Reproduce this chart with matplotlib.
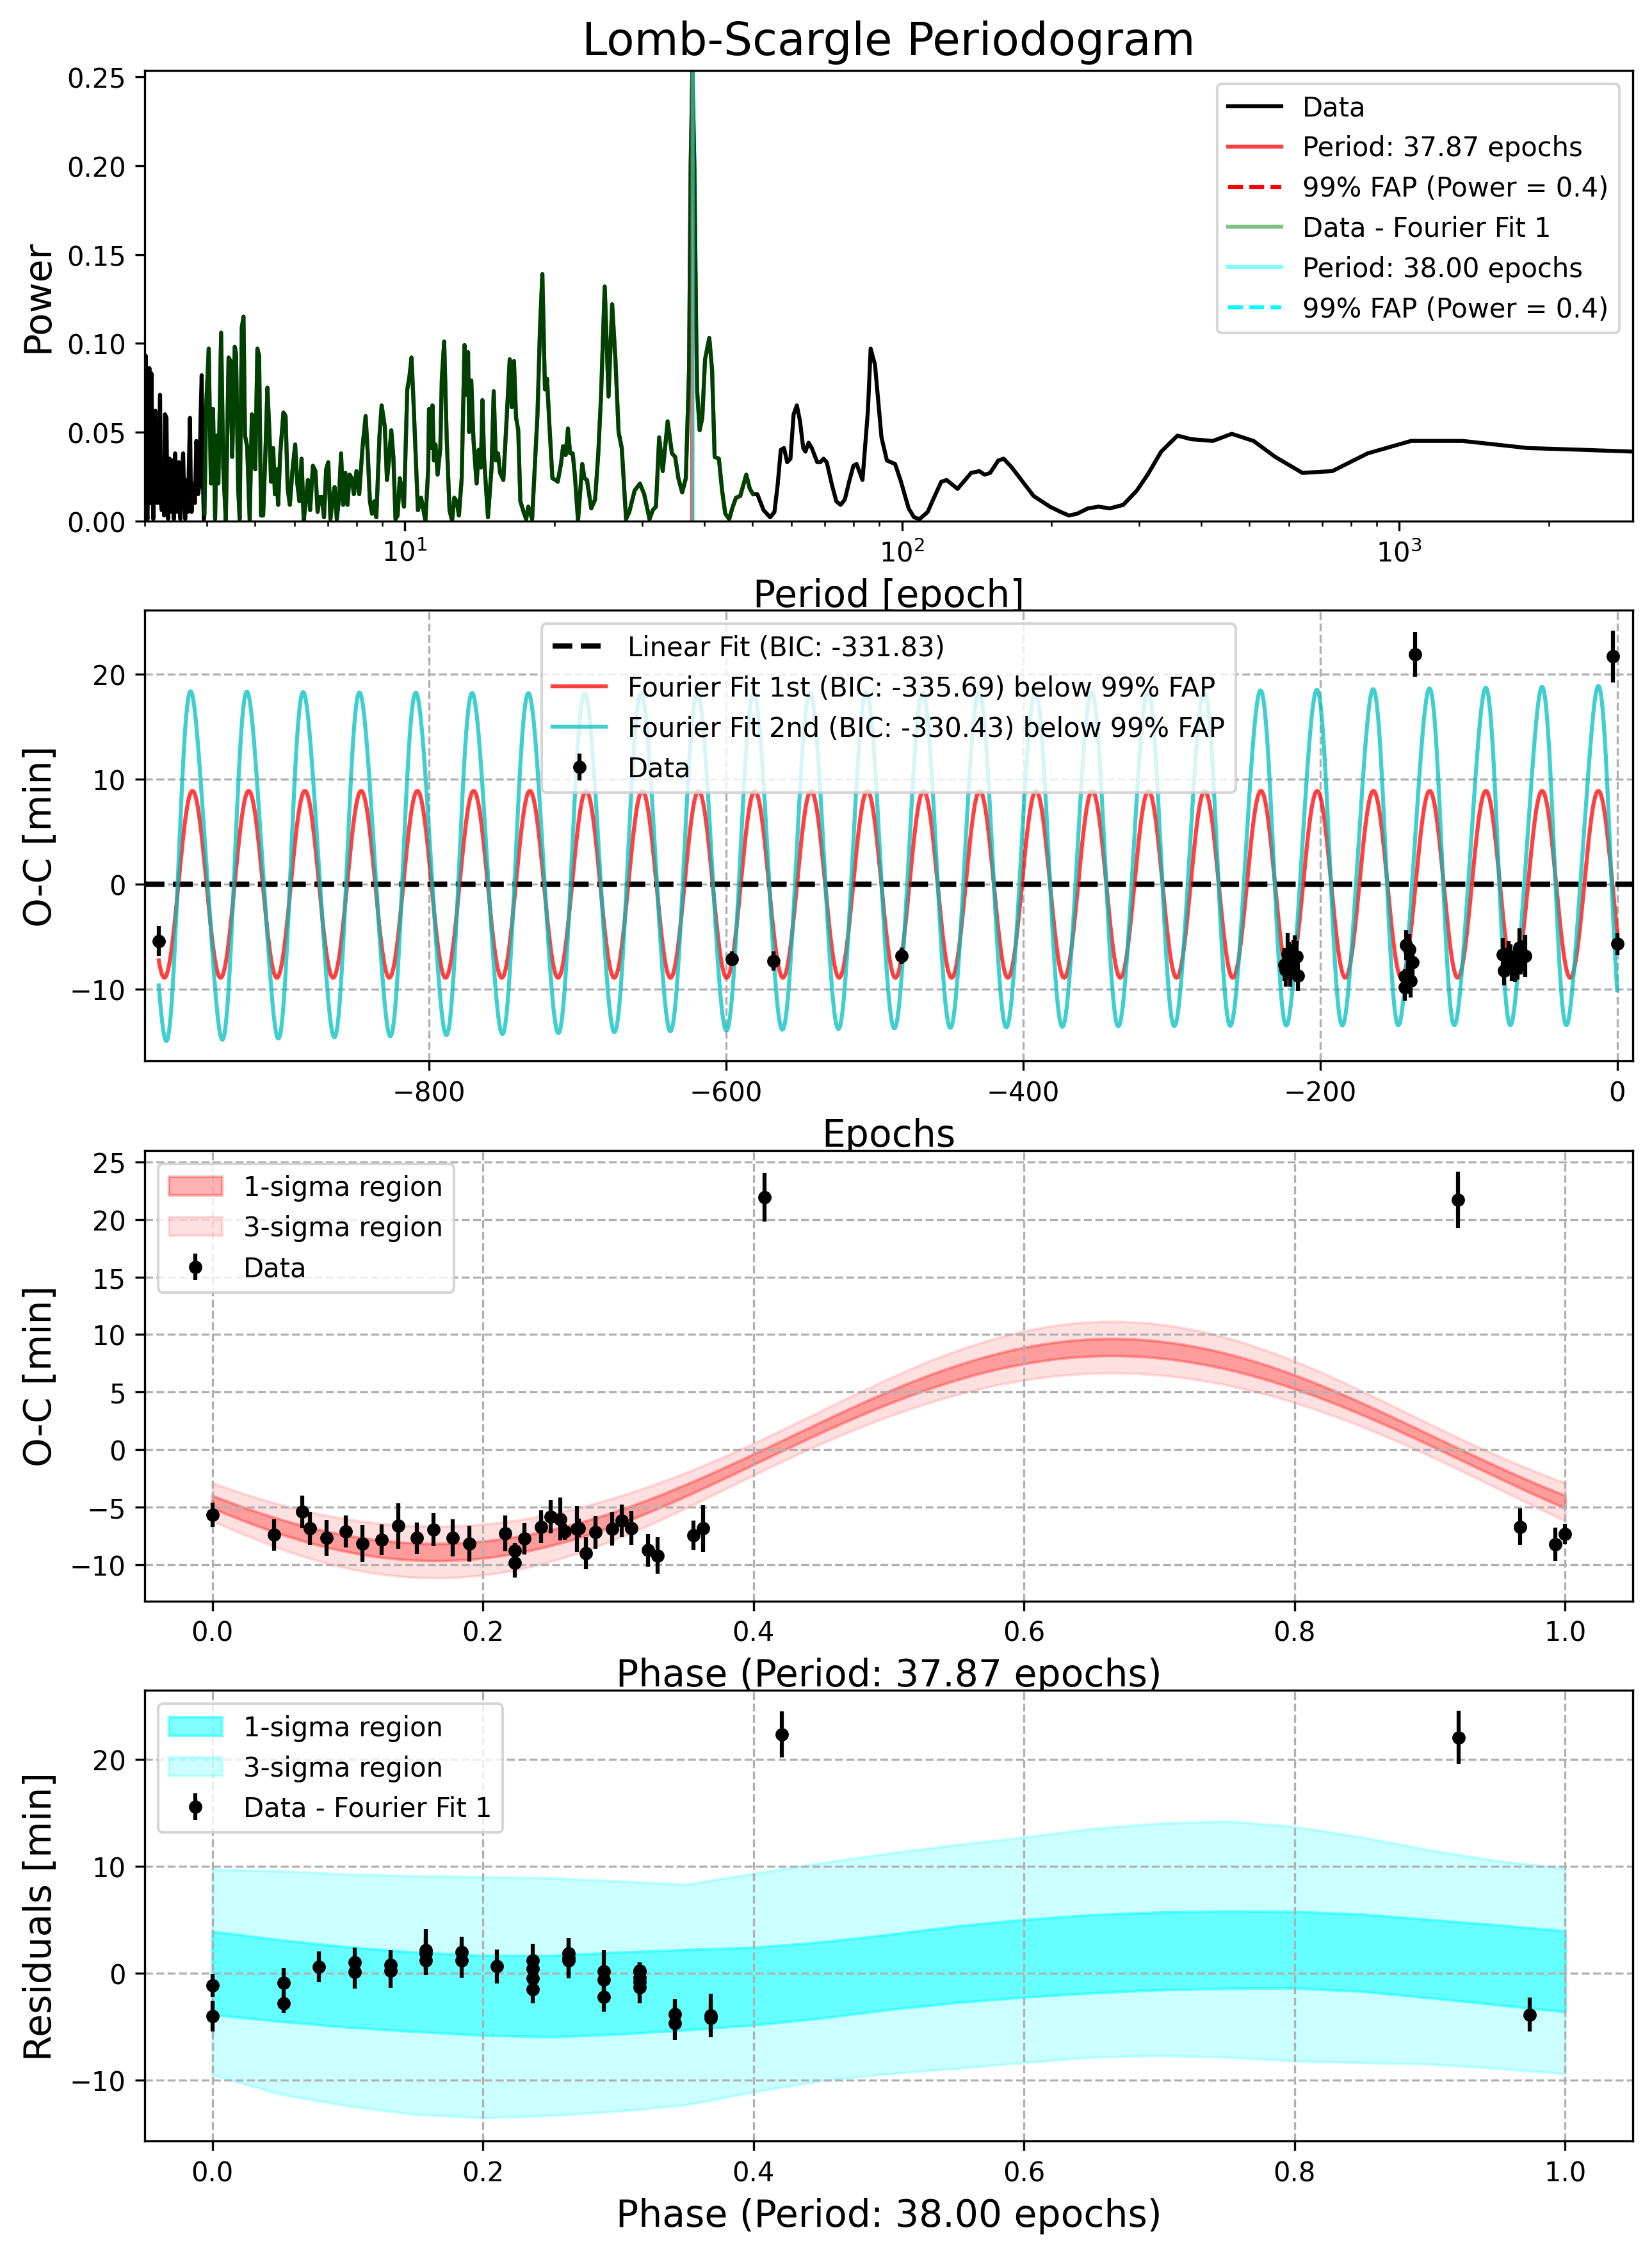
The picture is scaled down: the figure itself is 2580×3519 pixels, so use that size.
import numpy as np
import matplotlib

matplotlib.use("Agg")
import matplotlib.pyplot as plt

# ---------------------------------------------------------------------------
# Lomb-Scargle periodogram of the O-C data (log10 period, power)
log_period = [
    0.4771, 0.4792, 0.4809, 0.4827, 0.4848, 0.4865, 0.4882, 0.4908, 0.4925, 0.4943,
    0.4964, 0.4986, 0.5007, 0.5028, 0.5054, 0.5080, 0.5097, 0.5114, 0.5140, 0.5161,
    0.5179, 0.5209, 0.5226, 0.5243, 0.5260, 0.5273, 0.5290, 0.5307, 0.5329, 0.5346,
    0.5359, 0.5372, 0.5385, 0.5402, 0.5423, 0.5441, 0.5458, 0.5475, 0.5488, 0.5514,
    0.5544, 0.5565, 0.5586, 0.5608, 0.5621, 0.5638, 0.5659, 0.5681, 0.5698, 0.5715,
    0.5737, 0.5758, 0.5780, 0.5810, 0.5827, 0.5844, 0.5870, 0.5896, 0.5917, 0.5938,
    0.5960,
    0.5973, 0.6007, 0.6059, 0.6102, 0.6145, 0.6187, 0.6218, 0.6252, 0.6308, 0.6351,
    0.6402, 0.6458, 0.6497, 0.6531, 0.6582, 0.6608, 0.6651, 0.6681, 0.6724, 0.6758,
    0.6788, 0.6831, 0.6883, 0.6926, 0.6960, 0.6995, 0.7037, 0.7072, 0.7110, 0.7153,
    0.7196, 0.7239, 0.7282, 0.7312, 0.7355, 0.7389, 0.7424, 0.7454, 0.7497, 0.7561,
    0.7604, 0.7647, 0.7690, 0.7741, 0.7797, 0.7840, 0.7883, 0.7926, 0.7969, 0.8012,
    0.8055, 0.8098, 0.8154, 0.8205, 0.8248, 0.8291, 0.8334, 0.8377, 0.8420, 0.8463,
    0.8506, 0.8549, 0.8591, 0.8634, 0.8677, 0.8720, 0.8763, 0.8806, 0.8849, 0.8892,
    0.8935, 0.8978, 0.9029, 0.9085, 0.9150, 0.9214, 0.9257, 0.9300, 0.9343, 0.9386,
    0.9429, 0.9493, 0.9536, 0.9600, 0.9643, 0.9686, 0.9729, 0.9772, 0.9815, 0.9858,
    0.9901, 0.9944, 0.9986, 1.0051, 1.0094, 1.0137, 1.0180, 1.0223, 1.0266, 1.0330,
    1.0416, 1.0472, 1.0489, 1.0523, 1.0558, 1.0588, 1.0618, 1.0661, 1.0716, 1.0746,
    1.0794, 1.0845, 1.0901, 1.0953, 1.0996, 1.1047, 1.1090, 1.1146, 1.1202, 1.1232,
    1.1274, 1.1296, 1.1339, 1.1382, 1.1446, 1.1489, 1.1532, 1.1562, 1.1597, 1.1674,
    1.1747, 1.1790, 1.1833, 1.1876, 1.1918, 1.1983, 1.2047, 1.2112, 1.2154, 1.2197,
    1.2240, 1.2283, 1.2326, 1.2391, 1.2442, 1.2485, 1.2562, 1.2670, 1.2721, 1.2768,
    1.2820, 1.2863, 1.2906, 1.2970, 1.3035, 1.3077, 1.3142, 1.3185, 1.3236, 1.3283,
    1.3326, 1.3378, 1.3421, 1.3485, 1.3571, 1.3614, 1.3665, 1.3751, 1.3829, 1.3893,
    1.3949, 1.4022, 1.4099, 1.4172, 1.4237, 1.4301, 1.4365, 1.4451, 1.4516, 1.4623,
    1.4730, 1.4816, 1.4923, 1.4988, 1.5052, 1.5117, 1.5189, 1.5288, 1.5374, 1.5439,
    1.5503, 1.5580, 1.5653, 1.5718, 1.5750, 1.5785, 1.5825, 1.5860, 1.5881, 1.5932,
    1.5984, 1.6040, 1.6125, 1.6181, 1.6233, 1.6318, 1.6383, 1.6447, 1.6525, 1.6598,
    1.6662, 1.6748, 1.6868, 1.6941, 1.7005,
    1.7091, 1.7217, 1.7349, 1.7435, 1.7499, 1.7563, 1.7628, 1.7692, 1.7757, 1.7821,
    1.7886, 1.7950, 1.8014, 1.8058, 1.8122, 1.8186, 1.8296, 1.8358, 1.8422, 1.8487,
    1.8594, 1.8680, 1.8765, 1.8851, 1.8937, 1.9023, 1.9087, 1.9206, 1.9315, 1.9370,
    1.9457, 1.9534, 1.9588, 1.9697, 1.9861, 1.9970, 2.0134, 2.0243, 2.0353, 2.0517,
    2.0626, 2.0790, 2.0899, 2.1117, 2.1391, 2.1554, 2.1663, 2.1773, 2.1937, 2.2046,
    2.2210, 2.2428, 2.2647, 2.2974, 2.3193, 2.3357, 2.3520, 2.3739, 2.3957, 2.4176,
    2.4449, 2.4722, 2.4940, 2.5213, 2.5541, 2.5814, 2.6251, 2.6633, 2.7070, 2.7507,
    2.8053, 2.8654, 2.9364, 3.0238, 3.1275, 3.2586, 3.3679, 3.4695,
]
power = [
    0.050, 0.093, 0.010, 0.001, 0.040, 0.086, 0.010, 0.083, 0.030, 0.001,
    0.020, 0.062, 0.012, 0.010, 0.035, 0.071, 0.010, 0.006, 0.030, 0.003,
    0.060, 0.058, 0.010, 0.001, 0.030, 0.035, 0.005, 0.015, 0.034, 0.010,
    0.001, 0.025, 0.038, 0.015, 0.005, 0.030, 0.033, 0.010, 0.001, 0.025,
    0.038, 0.012, 0.001, 0.023, 0.010, 0.005, 0.030, 0.058, 0.020, 0.005,
    0.018, 0.021, 0.010, 0.045, 0.030, 0.015, 0.020, 0.060, 0.082, 0.030,
    0.001,
    0.004, 0.064, 0.097, 0.021, 0.063, 0.001, 0.048, 0.021, 0.106, 0.030,
    0.000, 0.092, 0.090, 0.036, 0.098, 0.094, 0.018, 0.001, 0.109, 0.115,
    0.048, 0.042, 0.000, 0.060, 0.032, 0.029, 0.097, 0.093, 0.003, 0.003,
    0.036, 0.075, 0.048, 0.022, 0.041, 0.015, 0.029, 0.009, 0.038, 0.061,
    0.059, 0.018, 0.009, 0.028, 0.043, 0.021, 0.011, 0.035, 0.000, 0.012,
    0.023, 0.006, 0.031, 0.028, 0.005, 0.0135, 0.0135, 0.002, 0.029, 0.033,
    0.001, 0.012, 0.019, 0.001, 0.012, 0.038, 0.009, 0.027, 0.009, 0.026,
    0.024, 0.015, 0.028, 0.015, 0.041, 0.059, 0.038, 0.011, 0.004, 0.011,
    0.002, 0.048, 0.065, 0.053, 0.023, 0.035, 0.051, 0.036, 0.001, 0.003,
    0.024, 0.017, 0.008, 0.074, 0.081, 0.092, 0.065, 0.035, 0.006, 0.013,
    0.000, 0.029, 0.063, 0.041, 0.065, 0.034, 0.043, 0.026, 0.041, 0.080,
    0.101, 0.046, 0.006, 0.000, 0.013, 0.011, 0.003, 0.024, 0.099, 0.071,
    0.095, 0.050, 0.079, 0.046, 0.021, 0.040, 0.030, 0.068, 0.035, 0.002,
    0.030, 0.073, 0.034, 0.038, 0.027, 0.023, 0.056, 0.091, 0.064, 0.090,
    0.058, 0.051, 0.011, 0.005, 0.001, 0.008, 0.001, 0.060, 0.109, 0.139,
    0.074, 0.080, 0.056, 0.024, 0.023, 0.022, 0.032, 0.042, 0.037, 0.052,
    0.038, 0.038, 0.026, 0.000, 0.032, 0.024, 0.023, 0.007, 0.012, 0.038,
    0.071, 0.132, 0.070, 0.122, 0.091, 0.050, 0.041, 0.001, 0.005, 0.017,
    0.021, 0.015, 0.001, 0.006, 0.008, 0.047, 0.028, 0.056, 0.038, 0.036,
    0.024, 0.016, 0.024, 0.085, 0.200, 0.2537, 0.200, 0.110, 0.073, 0.051,
    0.058, 0.091, 0.103, 0.085, 0.036, 0.035, 0.017, 0.004, 0.001, 0.008,
    0.013, 0.014, 0.026, 0.018, 0.015,
    0.015, 0.006, 0.002, 0.005, 0.020, 0.040, 0.041, 0.033, 0.035, 0.060,
    0.065, 0.056, 0.041, 0.039, 0.044, 0.041, 0.033, 0.033, 0.035, 0.033,
    0.020, 0.011, 0.009, 0.012, 0.022, 0.031, 0.032, 0.023, 0.062, 0.097,
    0.088, 0.064, 0.047, 0.034, 0.032, 0.023, 0.007, 0.002, 0.001, 0.005,
    0.012, 0.022, 0.023, 0.018, 0.027, 0.028, 0.026, 0.027, 0.034, 0.035,
    0.030, 0.022, 0.014, 0.008, 0.005, 0.003, 0.004, 0.007, 0.008, 0.007,
    0.009, 0.017, 0.026, 0.039, 0.048, 0.046, 0.045, 0.049, 0.045, 0.036,
    0.027, 0.028, 0.038, 0.045, 0.045, 0.041, 0.040, 0.039,
]
# the residual periodogram was only evaluated over this period range
resid_period_range = (3.95, 50.2)
period_min, period_max = 3.0, 2949.0

best_period_1 = 37.866
best_period_2 = 38.00
fap_power = 0.4

# ---------------------------------------------------------------------------
# O-C timings
epochs = [-982, -596, -568, -482, -224, -223, -222, -221, -220, -219,
          -218, -217, -216, -215, -143, -143, -142, -141, -140, -139,
          -138, -136, -77, -76, -74, -73, -72, -71, -70, -69,
          -67, -66, -65, -64, -62, -3, 0]
oc_min = [-5.39, -7.11, -7.31, -6.80, -7.65, -8.16, -6.63, -6.92, -8.16, -7.26,
          -6.69, -6.88, -6.89, -8.73, -8.79, -9.81, -5.81, -9.01, -6.18, -9.21,
          -7.45, 21.93, -6.70, -8.21, -7.40, -6.83, -7.11, -7.82, -7.68, -7.68,
          -7.74, -6.04, -7.17, -6.80, -6.83, 21.71, -5.67]
oc_err = [1.42, 0.70, 0.90, 0.80, 1.56, 1.59, 2.00, 1.45, 1.57, 1.57,
          1.42, 2.00, 1.45, 1.42, 0.68, 1.28, 1.45, 1.39, 1.42, 1.59,
          1.28, 2.14, 1.58, 1.43, 1.37, 1.42, 1.37, 1.35, 1.37, 1.62,
          1.35, 1.87, 1.42, 1.46, 2.03, 2.47, 1.07]

# fit results
bic_linear, bic_fit1, bic_fit2 = -331.83, -335.69, -330.43
fit1_amp, fit1_peak_phase = 8.9, 0.665
fit1_sig_const, fit1_sig_amp = 0.46, 0.59
# second Fourier fit: offset + trend, fundamental and a drifting 2nd-harmonic term
fit2_period, fit2_phase = 37.813, 0.6292
fit2_offset, fit2_offset_slope = 2.75, 0.00103
fit2_amp, fit2_amp_slope = 15.7, -0.00056
fit2_harm2, fit2_harm2_slope = 2.0, 0.004

# uncertainty band of the residual fit (phase, 38.00 epochs)
band_phase = [0.00, 0.05, 0.10, 0.15, 0.20, 0.25, 0.30, 0.35, 0.40, 0.45, 0.50,
              0.55, 0.60, 0.65, 0.70, 0.75, 0.80, 0.85, 0.90, 0.95, 1.00]
res_1s_upper = [3.90, 3.10, 2.45, 1.95, 1.65, 1.65, 1.95, 2.20, 2.40, 2.90, 3.60,
                4.40, 5.00, 5.45, 5.70, 5.80, 5.75, 5.50, 5.00, 4.50, 3.94]
res_1s_lower = [-3.87, -4.50, -5.05, -5.45, -5.80, -5.95, -5.70, -5.30, -4.85, -4.20, -3.40,
                -2.75, -2.24, -1.85, -1.56, -1.42, -1.39, -1.70, -2.30, -2.95, -3.60]
res_3s_upper = [9.70, 9.55, 9.25, 9.10, 9.00, 8.90, 8.60, 8.30, 9.30, 10.30, 11.20,
                12.00, 12.70, 13.50, 14.00, 14.20, 13.70, 12.70, 11.50, 10.50, 9.80]
res_3s_lower = [-9.50, -11.30, -12.40, -13.20, -13.50, -13.30, -12.90, -12.30, -11.10, -10.05, -9.40,
                -8.90, -8.35, -7.85, -7.70, -7.85, -8.20, -8.35, -8.50, -8.90, -9.40]


def fit1_model(t):
    return fit1_amp * np.cos(2 * np.pi * (np.asarray(t) / best_period_1 - fit1_peak_phase))


def fit2_model(t):
    t = np.asarray(t)
    th = 2 * np.pi * (t / fit2_period - fit2_phase)
    return (fit2_offset + fit2_offset_slope * t
            + (fit2_amp + fit2_amp_slope * t) * np.cos(th)
            + (fit2_harm2 + fit2_harm2_slope * t) * np.sin(2 * th))


period = 10 ** np.array(log_period)
power = np.array(power)
in_resid = (period >= resid_period_range[0]) & (period <= resid_period_range[1])

ep = np.array(epochs, dtype=float)
oc = np.array(oc_min)
err = np.array(oc_err)
phase1 = np.mod(ep / best_period_1, 1.0)
phase2 = np.mod(ep / best_period_2, 1.0)
resid = oc - fit1_model(ep)

fig, axes = plt.subplots(4, 1, figsize=(8.6, 3520 / 300), dpi=300)
fig.subplots_adjust(left=226 / 2580, right=2550 / 2580, top=1 - 111 / 3520,
                    bottom=1 - 3345 / 3520, hspace=0.199)

# --- 1: periodogram
ax = axes[0]
ax.plot(period, power, color="k", label="Data")
ax.axvline(37.87, color="r", alpha=0.75, label=f"Period: {best_period_1:.2f} epochs")
ax.axhline(fap_power, color="r", ls="--", label=f"99% FAP (Power = {fap_power})")
ax.plot(period[in_resid], power[in_resid], color="g", alpha=0.5, label="Data - Fourier Fit 1")
ax.axvline(best_period_2, color="cyan", alpha=0.5, label=f"Period: {best_period_2:.2f} epochs")
ax.axhline(fap_power, color="cyan", ls="--", label=f"99% FAP (Power = {fap_power})")
ax.set_xscale("log")
ax.set_xlim(period_min, period_max)
ax.set_ylim(0, power.max())
ax.set_xlabel("Period [epoch]", fontsize=14)
ax.set_ylabel("Power", fontsize=14)
ax.set_title("Lomb-Scargle Periodogram", fontsize=17)
ax.legend(loc="upper right", fontsize=10)

# --- 2: O-C vs epoch
ax = axes[1]
tt = np.linspace(ep.min(), ep.max(), 3000)
ax.axhline(0, color="k", ls="--", lw=2, label=f"Linear Fit (BIC: {bic_linear:.2f})")
ax.plot(tt, fit1_model(tt), color="r", alpha=0.75,
        label=f"Fourier Fit 1st (BIC: {bic_fit1:.2f}) below 99% FAP")
ax.plot(tt, fit2_model(tt), color="c", alpha=0.75,
        label=f"Fourier Fit 2nd (BIC: {bic_fit2:.2f}) below 99% FAP")
ax.errorbar(ep, oc, yerr=err, fmt="o", color="k", ms=4, label="Data")
ax.set_xlim(-991.5, 10.5)
ax.set_ylim(-16.82, 26.09)
ax.set_xlabel("Epochs", fontsize=14)
ax.set_ylabel("O-C [min]", fontsize=14)
ax.grid(True, linestyle="--")
ax.legend(loc="upper center", fontsize=10)

# --- 3: phase-folded O-C
ax = axes[2]
ph = np.linspace(0, 1, 500)
center = fit1_amp * np.cos(2 * np.pi * (ph - fit1_peak_phase))
sig = np.hypot(fit1_sig_const, fit1_sig_amp * np.cos(2 * np.pi * (ph - fit1_peak_phase)))
ax.fill_between(ph, center - sig, center + sig, color="red", alpha=0.3, label="1-sigma region")
ax.fill_between(ph, center - 3 * sig, center + 3 * sig, color="red", alpha=0.12,
                label="3-sigma region")
ax.errorbar(phase1, oc, yerr=err, fmt="o", color="k", ms=4, label="Data")
ax.set_xlim(-0.05, 1.05)
ax.set_ylim(-13.14, 25.99)
ax.set_xlabel(f"Phase (Period: {best_period_1:.2f} epochs)", fontsize=14)
ax.set_ylabel("O-C [min]", fontsize=14)
ax.grid(True, linestyle="--")
ax.legend(loc="upper left", fontsize=10)

# --- 4: residuals
ax = axes[3]
ax.fill_between(band_phase, res_1s_lower, res_1s_upper, color="cyan", alpha=0.5,
                label="1-sigma region")
ax.fill_between(band_phase, res_3s_lower, res_3s_upper, color="cyan", alpha=0.2,
                label="3-sigma region")
ax.errorbar(phase2, resid, yerr=err, fmt="o", color="k", ms=4, label="Data - Fourier Fit 1")
ax.set_xlim(-0.05, 1.05)
ax.set_ylim(-15.67, 26.4)
ax.set_xlabel(f"Phase (Period: {best_period_2:.2f} epochs)", fontsize=14)
ax.set_ylabel("Residuals [min]", fontsize=14)
ax.grid(True, linestyle="--")
ax.legend(loc="upper left", fontsize=10)

fig.savefig("out.png", dpi=300)
plt.close(fig)
